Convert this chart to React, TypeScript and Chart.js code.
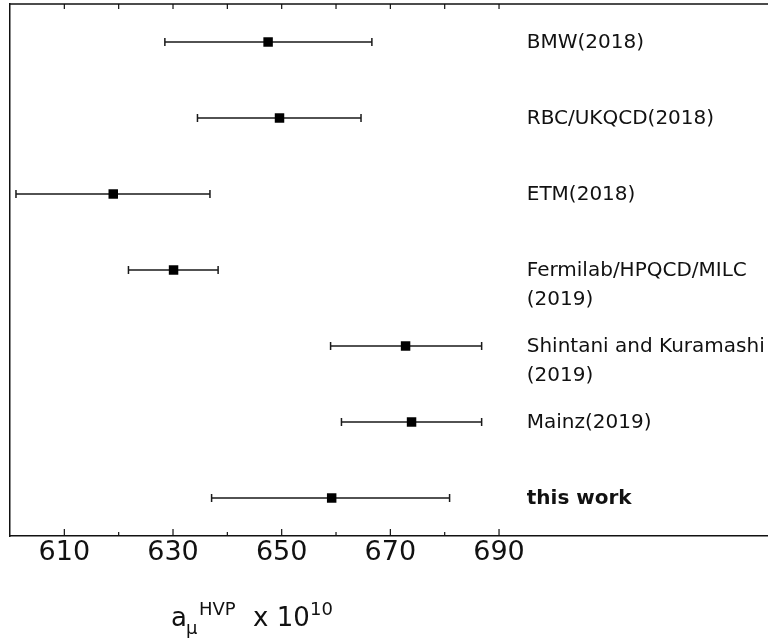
import React, { useEffect, useRef } from "react";
import { Chart, registerables } from "chart.js";

Chart.register(...registerables);

const labels = [
  "BMW(2018)",
  "RBC/UKQCD(2018)",
  "ETM(2018)",
  "Fermilab/HPQCD/MILC\n(2019)",
  "Shintani and Kuramashi\n(2019)",
  "Mainz(2019)",
  "this work",
];
const centers = [647.5, 649.6, 619.0, 630.1, 672.8, 673.9, 659.2];
const lows = [628.5, 634.5, 601.1, 621.8, 659.0, 661.0, 637.1];
const highs = [666.6, 664.6, 636.8, 638.3, 686.8, 686.8, 680.9];
const tickValues = [610, 620, 630, 640, 650, 660, 670, 680, 690];
const labeledTicks = [610, 630, 650, 670, 690];

const X_MIN = 600;
const X_MAX = 739.5;
const LABEL_X = 695.1;
const FONT = "'DejaVu Sans', 'Noto Sans', sans-serif";
const INK = "#111";

const decorPlugin = {
  id: "decor",
  beforeDatasetsDraw(chart: any) {
    const ctx = chart.ctx;
    const xs = chart.scales.x;
    const ys = chart.scales.y;
    ctx.save();
    ctx.strokeStyle = "#1a1a1a";
    ctx.lineWidth = 1.5;
    for (let i = 0; i < centers.length; i++) {
      const y = ys.getPixelForValue(i);
      const x1 = xs.getPixelForValue(lows[i]);
      const x2 = xs.getPixelForValue(highs[i]);
      ctx.beginPath();
      ctx.moveTo(x1, y);
      ctx.lineTo(x2, y);
      ctx.moveTo(x1, y - 4);
      ctx.lineTo(x1, y + 4);
      ctx.moveTo(x2, y - 4);
      ctx.lineTo(x2, y + 4);
      ctx.stroke();
    }
    ctx.restore();
  },
  afterDraw(chart: any) {
    const ctx = chart.ctx;
    const xs = chart.scales.x;
    const ys = chart.scales.y;
    const area = chart.chartArea;
    ctx.save();
    // top frame line
    ctx.strokeStyle = INK;
    ctx.lineWidth = 1.5;
    ctx.beginPath();
    ctx.moveTo(area.left, area.top);
    ctx.lineTo(area.right + 2, area.top);
    ctx.stroke();
    // ticks (inward)
    ctx.lineWidth = 1.2;
    ctx.beginPath();
    for (const v of tickValues) {
      const x = xs.getPixelForValue(v);
      const major = labeledTicks.includes(v);
      ctx.moveTo(x, area.bottom);
      ctx.lineTo(x, area.bottom - (major ? 7 : 4));
      ctx.moveTo(x, area.top);
      ctx.lineTo(x, area.top + 5);
    }
    ctx.stroke();
    // category labels
    ctx.fillStyle = INK;
    ctx.textBaseline = "middle";
    ctx.textAlign = "left";
    const lx = xs.getPixelForValue(LABEL_X);
    labels.forEach((lab, i) => {
      const y = ys.getPixelForValue(i) + 1;
      const bold = i === labels.length - 1;
      ctx.font = `${bold ? "bold " : ""}20px ${FONT}`;
      lab.split("\n").forEach((line, k) => {
        ctx.fillText(line, lx, y + k * 29);
      });
    });
    // axis title: a_mu^HVP x 10^10
    ctx.textBaseline = "alphabetic";
    ctx.font = `26px ${FONT}`;
    ctx.fillText("a", 171, 626);
    ctx.font = `18px ${FONT}`;
    ctx.fillText("\u03bc", 186, 634);
    ctx.fillText("HVP", 199, 615);
    ctx.font = `26px ${FONT}`;
    ctx.fillText("x 10", 253, 626);
    ctx.font = `18px ${FONT}`;
    ctx.fillText("10", 310, 615);
    ctx.restore();
  },
};

export default function App() {
  const ref = useRef<HTMLCanvasElement | null>(null);
  useEffect(() => {
    if (!ref.current) return;
    const chart = new Chart(ref.current, {
      type: "scatter",
      data: {
        datasets: [
          {
            data: centers.map((c, i) => ({ x: c, y: i })),
            pointStyle: "rect",
            pointRadius: 6.7,
            pointHoverRadius: 6.7,
            backgroundColor: "#000",
            borderWidth: 0,
          },
        ],
      },
      options: {
        animation: false,
        responsive: false,
        maintainAspectRatio: false,
        layout: { autoPadding: false, padding: { top: 4, right: 0, left: 0, bottom: 0 } },
        plugins: {
          legend: { display: false },
          tooltip: { enabled: false },
          title: { display: false },
        },
        scales: {
          x: {
            type: "linear",
            position: "bottom",
            min: X_MIN,
            max: X_MAX,
            afterBuildTicks: (scale: any) => {
              scale.ticks = tickValues.map((v) => ({ value: v }));
            },
            afterFit: (scale: any) => {
              scale.height = 105;
              scale.paddingRight = 0;
              scale.paddingLeft = 0;
            },
            grid: { display: false, drawTicks: false },
            border: { display: true, color: INK, width: 1.5 },
            ticks: {
              autoSkip: false,
              maxRotation: 0,
              padding: 1,
              color: INK,
              font: { family: FONT, size: 27 },
              callback: (v: any) => (labeledTicks.includes(Number(v)) ? String(v) : ""),
            },
          },
          y: {
            type: "linear",
            min: -0.5,
            max: 6.5,
            reverse: true,
            afterFit: (scale: any) => {
              scale.width = 10;
            },
            grid: { display: false, drawTicks: false },
            border: { display: true, color: INK, width: 1.5 },
            ticks: { display: false },
          },
        },
      },
      plugins: [decorPlugin],
    });
    return () => chart.destroy();
  }, []);
  return (
    <div style={{ position: "fixed", left: 0, top: 0, width: 768, height: 641, background: "#fff" }}>
      <canvas ref={ref} width={768} height={641} style={{ width: 768, height: 641, display: "block" }} />
    </div>
  );
}
